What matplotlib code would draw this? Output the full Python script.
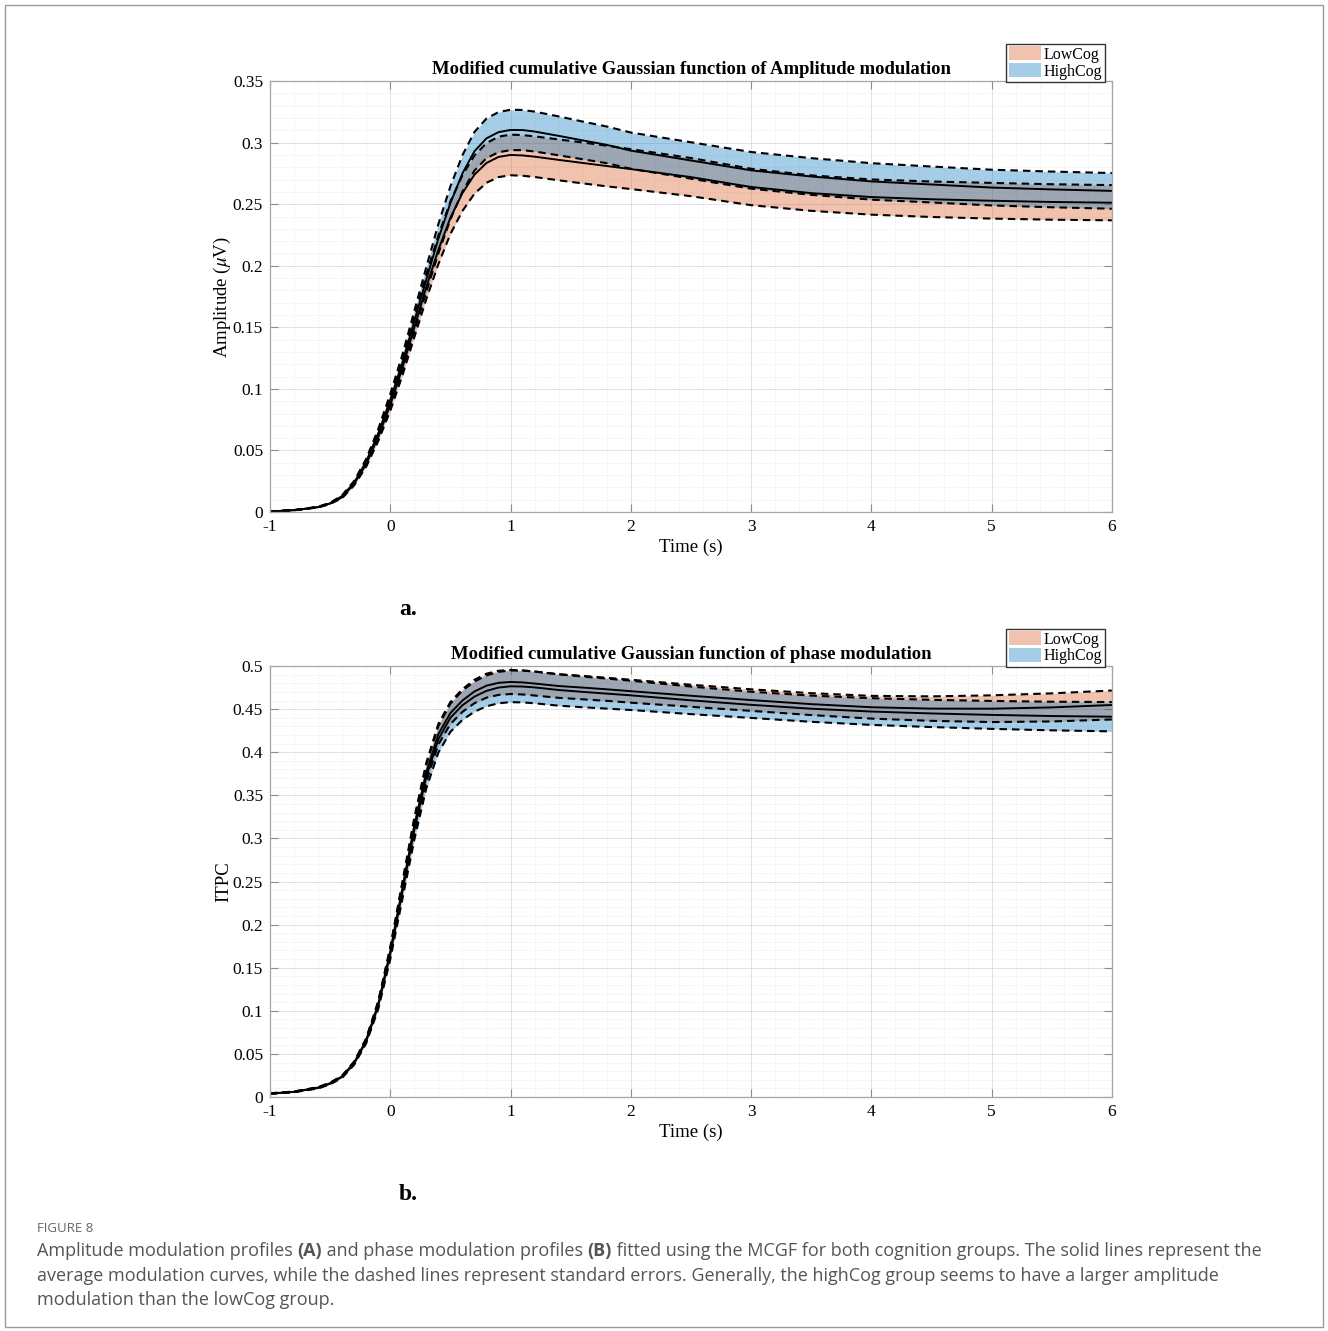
import numpy as np
import matplotlib
matplotlib.use('Agg')
import matplotlib.pyplot as plt
from matplotlib.patches import Rectangle
from matplotlib.ticker import MultipleLocator

plt.rcParams['font.family'] = ['Liberation Serif', 'DejaVu Serif']
plt.rcParams['mathtext.fontset'] = 'stix'

# time axis (s)
time_s = [-1, -0.8, -0.6, -0.5, -0.4, -0.3, -0.2, -0.1, 0, 0.1, 0.2, 0.3, 0.4, 0.5,
          0.6, 0.7, 0.8, 0.9, 1.0, 1.1, 1.2, 1.4, 1.6, 1.8, 2.0, 2.5, 3.0, 3.5,
          4.0, 4.5, 5.0, 5.5, 6.0]

# (a) amplitude modulation, mean and standard error per group
amp_high_mean = [0.0005, 0.0015, 0.004, 0.007, 0.013, 0.024, 0.041, 0.064, 0.091, 0.121,
                 0.155, 0.189, 0.222, 0.251, 0.275, 0.293, 0.3035, 0.3085, 0.3103, 0.3102,
                 0.3090, 0.3055, 0.3018, 0.2982, 0.2935, 0.2855, 0.2775, 0.2725, 0.2685,
                 0.2660, 0.2635, 0.2620, 0.2608]
amp_high_se = [0.0000, 0.0001, 0.0002, 0.0004, 0.0007, 0.0013, 0.0022, 0.0034, 0.0049, 0.0065,
               0.0083, 0.0101, 0.0119, 0.0135, 0.0148, 0.0157, 0.0161, 0.0163, 0.0164, 0.0163,
               0.0162, 0.0158, 0.0153, 0.0149, 0.0147, 0.0148, 0.0149, 0.0149, 0.0148,
               0.0146, 0.0145, 0.0145, 0.0145]
amp_low_mean = [0.0005, 0.0015, 0.004, 0.007, 0.012, 0.023, 0.039, 0.061, 0.087, 0.117,
                0.150, 0.183, 0.213, 0.239, 0.259, 0.274, 0.2835, 0.2884, 0.2900, 0.2896,
                0.2886, 0.2860, 0.2835, 0.2810, 0.2785, 0.2720, 0.2640, 0.2590, 0.2558,
                0.2540, 0.2528, 0.2518, 0.2512]
amp_low_se = [0.0000, 0.0001, 0.0002, 0.0004, 0.0007, 0.0013, 0.0022, 0.0034, 0.0048, 0.0064,
              0.0082, 0.0100, 0.0117, 0.0132, 0.0145, 0.0155, 0.0161, 0.0164, 0.0165, 0.0165,
              0.0165, 0.0166, 0.0166, 0.0165, 0.0162, 0.0155, 0.0148, 0.0144, 0.0143,
              0.0144, 0.0145, 0.0144, 0.0143]

# (b) phase modulation (ITPC)
itpc_high_mean = [0.004, 0.006, 0.0105, 0.0155, 0.0235, 0.039, 0.065, 0.106, 0.166, 0.238,
                  0.310, 0.372, 0.415, 0.440, 0.4545, 0.4645, 0.4712, 0.4750, 0.4765, 0.4762,
                  0.4752, 0.4722, 0.4700, 0.4680, 0.4660, 0.4602, 0.4550, 0.4505, 0.4472,
                  0.4450, 0.4433, 0.4420, 0.4412]
itpc_high_se = [0.0003, 0.0004, 0.0006, 0.0008, 0.0011, 0.0016, 0.0026, 0.0041, 0.0063, 0.0089,
                0.0115, 0.0138, 0.0154, 0.0164, 0.0170, 0.0175, 0.0179, 0.0182, 0.0184, 0.0184,
                0.0184, 0.0182, 0.0178, 0.0174, 0.0170, 0.0160, 0.0152, 0.0152, 0.0155,
                0.0158, 0.0162, 0.0166, 0.0170]
itpc_low_mean = [0.004, 0.006, 0.011, 0.016, 0.024, 0.040, 0.066, 0.108, 0.169, 0.242,
                 0.315, 0.377, 0.421, 0.4455, 0.460, 0.4705, 0.4772, 0.4805, 0.4815, 0.4810,
                 0.4797, 0.4768, 0.4750, 0.4730, 0.4708, 0.4655, 0.4605, 0.4558, 0.4522,
                 0.4506, 0.4505, 0.4520, 0.4548]
itpc_low_se = [0.0003, 0.0003, 0.0005, 0.0006, 0.0008, 0.0012, 0.0019, 0.0031, 0.0048, 0.0069,
               0.0090, 0.0108, 0.0120, 0.0128, 0.0132, 0.0136, 0.0139, 0.0140, 0.0140, 0.0140,
               0.0139, 0.0137, 0.0136, 0.0134, 0.0133, 0.0128, 0.0125, 0.0127, 0.0132,
               0.0142, 0.0155, 0.0163, 0.0168]

group_names = ['LowCog', 'HighCog']
low_color = (0.85, 0.325, 0.098)
high_color = (0.0, 0.447, 0.741)
band_alpha = 0.35

fig = plt.figure(figsize=(13.28, 13.31), dpi=100)
fig.patches.append(Rectangle((0.004, 0.003), 0.992, 0.993, transform=fig.transFigure,
                             fill=False, edgecolor='#9a9a9a', linewidth=1.0))


def draw_group(ax, t, mean, se, color, label):
    t = np.asarray(t)
    mean = np.asarray(mean)
    se = np.asarray(se)
    ax.fill_between(t, mean - se, mean + se, color=color, alpha=band_alpha,
                    linewidth=0, label=label)
    ax.plot(t, mean, color='black', linewidth=1.4)
    ax.plot(t, mean + se, color='black', linewidth=1.5, linestyle=(0, (3.6, 2.4)))
    ax.plot(t, mean - se, color='black', linewidth=1.5, linestyle=(0, (3.6, 2.4)))


def style_axes(ax, ymax, title, ylabel):
    ax.set_xlim(-1, 6)
    ax.set_ylim(0, ymax)
    ax.xaxis.set_major_locator(MultipleLocator(1))
    ax.yaxis.set_major_locator(MultipleLocator(0.05))
    ax.xaxis.set_minor_locator(MultipleLocator(0.2))
    ax.yaxis.set_minor_locator(MultipleLocator(0.01))
    ax.grid(True, which='major', color='#dddddd', linewidth=0.6)
    ax.grid(True, which='minor', color='#e6e6e6', linewidth=0.6, linestyle=(0, (1, 1.5)))
    ax.set_axisbelow(True)
    ax.tick_params(which='major', direction='in', length=5.5, width=0.8, color='#8c8c8c',
                   top=True, right=True, labelsize=12.5, pad=5)
    ax.tick_params(which='minor', length=0, top=True, right=True)
    for s in ax.spines.values():
        s.set_color('#a6a6a6')
        s.set_linewidth(0.9)
    ax.set_xticklabels([f'{v:g}' for v in ax.get_xticks()])
    ax.set_yticklabels([f'{v:g}' for v in ax.get_yticks()])
    ax.set_title(title, fontsize=13.4, fontweight='bold', pad=5)
    ax.set_xlabel('Time (s)', fontsize=13.5, labelpad=3)
    ax.set_ylabel(ylabel, fontsize=13.5, labelpad=0)
    ax.legend(loc='lower right', bbox_to_anchor=(0.9915, 0.998), fontsize=11.5,
              frameon=True, fancybox=False, edgecolor='#333333', framealpha=1,
              borderpad=0.15, labelspacing=0.05, handlelength=2.0, handleheight=0.9,
              handletextpad=0.2, borderaxespad=0)


ax_a = fig.add_axes([0.2033, 0.6153, 0.634, 0.3238])
draw_group(ax_a, time_s, amp_low_mean, amp_low_se, low_color, group_names[0])
draw_group(ax_a, time_s, amp_high_mean, amp_high_se, high_color, group_names[1])
style_axes(ax_a, 0.35, 'Modified cumulative Gaussian function of Amplitude modulation',
           r'Amplitude ($\mu$V)')

ax_b = fig.add_axes([0.2033, 0.1758, 0.634, 0.3238])
draw_group(ax_b, time_s, itpc_low_mean, itpc_low_se, low_color, group_names[0])
draw_group(ax_b, time_s, itpc_high_mean, itpc_high_se, high_color, group_names[1])
style_axes(ax_b, 0.5, 'Modified cumulative Gaussian function of phase modulation', 'ITPC')

fig.text(408 / 1328, 1 - 610 / 1331, 'a.', fontsize=17, fontweight='bold',
         ha='center', va='center')
fig.text(408 / 1328, 1 - 1195 / 1331, 'b.', fontsize=17, fontweight='bold',
         ha='center', va='center')

# caption with bold (A)/(B)
cap_font = ['Open Sans', 'DejaVu Sans']
cap_color = '#555555'
fig.text(37 / 1328, 1 - 1228 / 1331, 'FIGURE 8', fontsize=9.5, color='#666666',
         family=cap_font, va='center')

renderer = fig.canvas.get_renderer()
W = fig.get_figwidth() * fig.dpi
caption_lines = [
    [('Amplitude modulation profiles ', 'normal'), ('(A)', 'bold'),
     (' and phase modulation profiles ', 'normal'), ('(B)', 'bold'),
     (' fitted using the MCGF for both cognition groups. The solid lines represent the', 'normal')],
    [('average modulation curves, while the dashed lines represent standard errors. '
      'Generally, the highCog group seems to have a larger amplitude', 'normal')],
    [('modulation than the lowCog group.', 'normal')],
]
line_y = [1251, 1276, 1300]
for parts, yp in zip(caption_lines, line_y):
    x = 37 / 1328
    for txt, weight in parts:
        t = fig.text(x, 1 - yp / 1331, txt, fontsize=13.0, color=cap_color,
                     family=cap_font, fontweight=weight, va='center')
        x += t.get_window_extent(renderer).width / W

fig.savefig('out.png', dpi=100)
